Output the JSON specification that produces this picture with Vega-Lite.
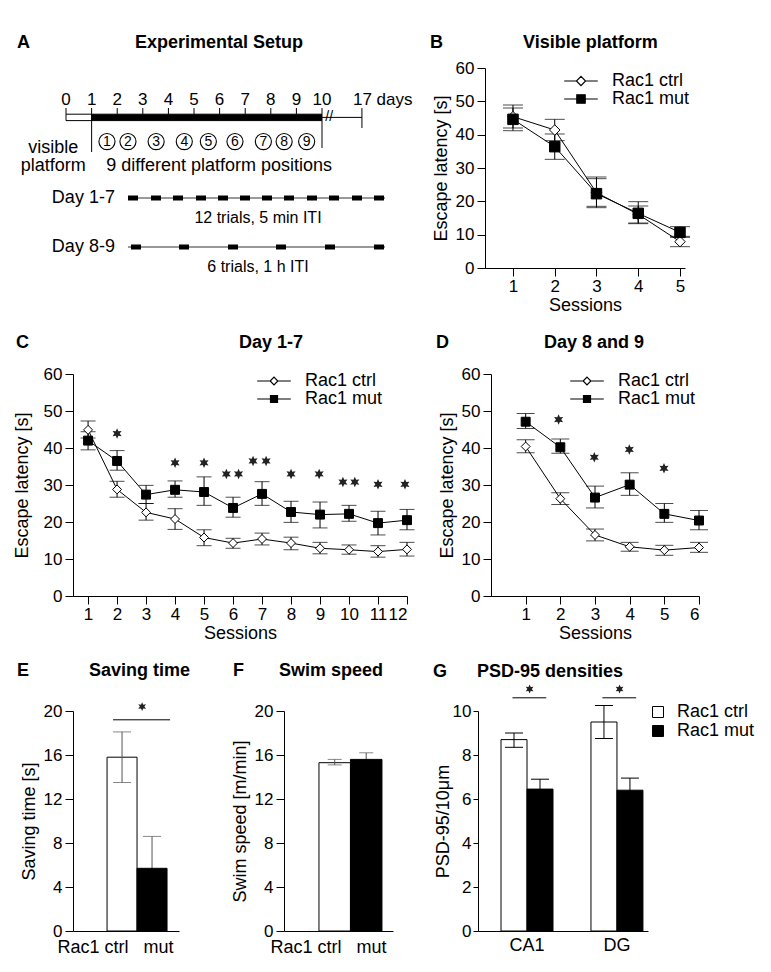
{
"$schema": "https://vega.github.io/schema/vega-lite/v6.json",
"background": "white",
"padding": {"left": 13, "top": 34, "right": 5, "bottom": 5},
"config": {
  "font": "Liberation Sans",
  "view": {"stroke": null},
  "axis": {"domainColor": "black", "domainWidth": 1, "tickColor": "black", "tickWidth": 1, "tickSize": 8, "labelColor": "black", "labelFontSize": 17, "labelPadding": 3, "titleColor": "black", "titleFontSize": 18, "titleFontWeight": "normal", "titlePadding": 5, "grid": false},
  "axisX": {"labelPadding": 2, "titlePadding": 2},
  "title": {"fontSize": 18, "fontWeight": "bold", "anchor": "start", "frame": "group", "color": "black"},
  "legend": {"labelFontSize": 18, "labelColor": "black", "padding": 0, "rowPadding": 0, "titlePadding": 0}
},
"resolve": {"scale": {"fill": "independent", "shape": "independent", "stroke": "independent"}},
"spacing": 20,
"datasets": {
  "visible": [
    {"session": 1, "group": "Rac1 ctrl", "mean": 45.4, "lo": 42.0, "hi": 48.9},
    {"session": 2, "group": "Rac1 ctrl", "mean": 41.4, "lo": 38.2, "hi": 44.6},
    {"session": 3, "group": "Rac1 ctrl", "mean": 22.6, "lo": 18.5, "hi": 26.8},
    {"session": 4, "group": "Rac1 ctrl", "mean": 16.1, "lo": 13.5, "hi": 18.6},
    {"session": 5, "group": "Rac1 ctrl", "mean": 7.9, "lo": 6.4, "hi": 9.5},
    {"session": 1, "group": "Rac1 mut", "mean": 44.6, "lo": 41.2, "hi": 48.0},
    {"session": 2, "group": "Rac1 mut", "mean": 36.4, "lo": 32.6, "hi": 40.2},
    {"session": 3, "group": "Rac1 mut", "mean": 22.3, "lo": 18.1, "hi": 27.3},
    {"session": 4, "group": "Rac1 mut", "mean": 16.4, "lo": 13.3, "hi": 19.9},
    {"session": 5, "group": "Rac1 mut", "mean": 10.7, "lo": 9.2, "hi": 12.4}
  ],
  "days17": [
    {"session": 1, "group": "Rac1 ctrl", "mean": 44.9, "lo": 42.7, "hi": 47.3},
    {"session": 2, "group": "Rac1 ctrl", "mean": 28.8, "lo": 26.7, "hi": 31.0},
    {"session": 3, "group": "Rac1 ctrl", "mean": 22.6, "lo": 20.5, "hi": 25.0},
    {"session": 4, "group": "Rac1 ctrl", "mean": 20.8, "lo": 18.0, "hi": 23.6},
    {"session": 5, "group": "Rac1 ctrl", "mean": 15.8, "lo": 13.6, "hi": 17.9},
    {"session": 6, "group": "Rac1 ctrl", "mean": 14.3, "lo": 12.9, "hi": 15.6},
    {"session": 7, "group": "Rac1 ctrl", "mean": 15.4, "lo": 13.8, "hi": 17.0},
    {"session": 8, "group": "Rac1 ctrl", "mean": 14.3, "lo": 12.5, "hi": 15.9},
    {"session": 9, "group": "Rac1 ctrl", "mean": 12.9, "lo": 11.4, "hi": 14.5},
    {"session": 10, "group": "Rac1 ctrl", "mean": 12.5, "lo": 11.3, "hi": 13.8},
    {"session": 11, "group": "Rac1 ctrl", "mean": 12.0, "lo": 10.5, "hi": 13.6},
    {"session": 12, "group": "Rac1 ctrl", "mean": 12.6, "lo": 10.8, "hi": 14.5},
    {"session": 1, "group": "Rac1 mut", "mean": 42.0, "lo": 39.5, "hi": 44.4},
    {"session": 2, "group": "Rac1 mut", "mean": 36.5, "lo": 34.0, "hi": 39.3},
    {"session": 3, "group": "Rac1 mut", "mean": 27.4, "lo": 25.0, "hi": 29.9},
    {"session": 4, "group": "Rac1 mut", "mean": 28.7, "lo": 26.7, "hi": 31.1},
    {"session": 5, "group": "Rac1 mut", "mean": 28.1, "lo": 24.5, "hi": 32.2},
    {"session": 6, "group": "Rac1 mut", "mean": 23.8, "lo": 21.3, "hi": 26.7},
    {"session": 7, "group": "Rac1 mut", "mean": 27.6, "lo": 24.5, "hi": 30.9},
    {"session": 8, "group": "Rac1 mut", "mean": 22.7, "lo": 19.9, "hi": 25.6},
    {"session": 9, "group": "Rac1 mut", "mean": 22.0, "lo": 18.4, "hi": 25.4},
    {"session": 10, "group": "Rac1 mut", "mean": 22.2, "lo": 20.2, "hi": 24.5},
    {"session": 11, "group": "Rac1 mut", "mean": 19.7, "lo": 16.5, "hi": 22.9},
    {"session": 12, "group": "Rac1 mut", "mean": 20.5, "lo": 17.9, "hi": 23.4}
  ],
  "days89": [
    {"session": 1, "group": "Rac1 ctrl", "mean": 40.4, "lo": 38.7, "hi": 42.2},
    {"session": 2, "group": "Rac1 ctrl", "mean": 26.3, "lo": 24.7, "hi": 27.9},
    {"session": 3, "group": "Rac1 ctrl", "mean": 16.5, "lo": 14.9, "hi": 18.1},
    {"session": 4, "group": "Rac1 ctrl", "mean": 13.3, "lo": 12.1, "hi": 14.5},
    {"session": 5, "group": "Rac1 ctrl", "mean": 12.4, "lo": 11.0, "hi": 13.7},
    {"session": 6, "group": "Rac1 ctrl", "mean": 13.1, "lo": 11.8, "hi": 14.5},
    {"session": 1, "group": "Rac1 mut", "mean": 47.1, "lo": 45.3, "hi": 49.3},
    {"session": 2, "group": "Rac1 mut", "mean": 40.2, "lo": 38.6, "hi": 42.4},
    {"session": 3, "group": "Rac1 mut", "mean": 26.6, "lo": 23.8, "hi": 29.7},
    {"session": 4, "group": "Rac1 mut", "mean": 30.1, "lo": 27.2, "hi": 33.3},
    {"session": 5, "group": "Rac1 mut", "mean": 22.2, "lo": 19.9, "hi": 25.0},
    {"session": 6, "group": "Rac1 mut", "mean": 20.4, "lo": 17.9, "hi": 23.1}
  ],
  "stars17": [
    {"session": 2, "height": 43.9}, {"session": 4, "height": 36.0}, {"session": 5, "height": 36.0},
    {"session": 5.77, "height": 33.0}, {"session": 6.19, "height": 33.0},
    {"session": 6.69, "height": 36.5}, {"session": 7.14, "height": 36.5},
    {"session": 8, "height": 33.0}, {"session": 8.97, "height": 33.0},
    {"session": 9.79, "height": 30.8}, {"session": 10.2, "height": 30.8},
    {"session": 11, "height": 30.2}, {"session": 11.93, "height": 30.2}
  ],
  "stars89": [
    {"session": 1.95, "height": 47.7}, {"session": 2.98, "height": 37.5},
    {"session": 3.99, "height": 39.6}, {"session": 4.99, "height": 34.5}
  ],
  "saving": [
    {"group": "ctrl", "mean": 15.8, "lo": 13.5, "hi": 18.1},
    {"group": "mut", "mean": 5.7, "lo": 2.8, "hi": 8.6}
  ],
  "saving_sig": [{"from": "ctrl", "to": "mut", "bracket": 19.2, "star": 20.4}],
  "speed": [
    {"group": "ctrl", "mean": 15.3, "lo": 15.1, "hi": 15.6},
    {"group": "mut", "mean": 15.6, "lo": 15.0, "hi": 16.2}
  ],
  "psd": [
    {"region": "CA1", "group": "Rac1 ctrl", "mean": 8.7, "lo": 8.35, "hi": 9.0},
    {"region": "CA1", "group": "Rac1 mut", "mean": 6.45, "lo": 6.0, "hi": 6.9},
    {"region": "DG", "group": "Rac1 ctrl", "mean": 9.5, "lo": 8.75, "hi": 10.25},
    {"region": "DG", "group": "Rac1 mut", "mean": 6.4, "lo": 5.85, "hi": 6.95}
  ],
  "psd_sig": [
    {"region": "CA1", "bracket": 10.6, "star": 11.0},
    {"region": "DG", "bracket": 10.6, "star": 11.0}
  ],
  "a_phases": [
    {"phase": "visible", "from": 0, "to": 1},
    {"phase": "hidden", "from": 1, "to": 10}
  ],
  "a_retention": [{"from": 10, "to": 11.56}],
  "a_break": [{"day": 10.28, "symbol": "//"}],
  "a_guides": [
    {"day": 1, "top": 2.31, "bottom": 4.2},
    {"day": 10, "top": 2.63, "bottom": 4.0},
    {"day": 11.56, "top": 2.0, "bottom": 3.0}
  ],
  "a_days": [
    {"day": 0}, {"day": 1}, {"day": 2}, {"day": 3}, {"day": 4}, {"day": 5},
    {"day": 6}, {"day": 7}, {"day": 8}, {"day": 9}, {"day": 10}
  ],
  "a_end": [{"day": 11.56, "label": "17 days"}],
  "a_positions": [
    {"position": 1, "day": 1.6}, {"position": 2, "day": 2.42}, {"position": 3, "day": 3.52},
    {"position": 4, "day": 4.62}, {"position": 5, "day": 5.56}, {"position": 6, "day": 6.6},
    {"position": 7, "day": 7.71}, {"position": 8, "day": 8.52}, {"position": 9, "day": 9.4}
  ],
  "a_notes": [
    {"text": "visible\nplatform", "day": -0.5, "lane": 4.0},
    {"text": "9 different platform positions", "day": 5.98, "lane": 4.9}
  ],
  "a_schedules": [
    {"schedule": "Day 1-7", "day": 1.91, "lane": 6.5, "from": 2.42, "to": 12.46, "caption": "12 trials, 5 min ITI", "captionDay": 7.5, "captionLane": 7.5},
    {"schedule": "Day 8-9", "day": 1.91, "lane": 8.95, "from": 2.42, "to": 12.46, "caption": "6 trials, 1 h ITI", "captionDay": 7.5, "captionLane": 9.95}
  ],
  "a_trials": [
    {"schedule": "Day 1-7", "trial": 1, "day": 2.617, "lane": 6.5},
    {"schedule": "Day 1-7", "trial": 2, "day": 3.516, "lane": 6.5},
    {"schedule": "Day 1-7", "trial": 3, "day": 4.375, "lane": 6.5},
    {"schedule": "Day 1-7", "trial": 4, "day": 5.273, "lane": 6.5},
    {"schedule": "Day 1-7", "trial": 5, "day": 6.133, "lane": 6.5},
    {"schedule": "Day 1-7", "trial": 6, "day": 6.992, "lane": 6.5},
    {"schedule": "Day 1-7", "trial": 7, "day": 7.852, "lane": 6.5},
    {"schedule": "Day 1-7", "trial": 8, "day": 8.711, "lane": 6.5},
    {"schedule": "Day 1-7", "trial": 9, "day": 9.609, "lane": 6.5},
    {"schedule": "Day 1-7", "trial": 10, "day": 10.469, "lane": 6.5},
    {"schedule": "Day 1-7", "trial": 11, "day": 11.367, "lane": 6.5},
    {"schedule": "Day 1-7", "trial": 12, "day": 12.227, "lane": 6.5},
    {"schedule": "Day 8-9", "trial": 1, "day": 2.734, "lane": 8.95},
    {"schedule": "Day 8-9", "trial": 2, "day": 4.609, "lane": 8.95},
    {"schedule": "Day 8-9", "trial": 3, "day": 6.523, "lane": 8.95},
    {"schedule": "Day 8-9", "trial": 4, "day": 8.398, "lane": 8.95},
    {"schedule": "Day 8-9", "trial": 5, "day": 10.313, "lane": 8.95},
    {"schedule": "Day 8-9", "trial": 6, "day": 12.227, "lane": 8.95}
  ]
},
"vconcat": [
  {
    "spacing": 13,
    "resolve": {"scale": {"fill": "independent", "shape": "independent", "stroke": "independent"}},
    "hconcat": [
      {
        "title": {"text": "A\u00a0\u00a0\u00a0\u00a0\u00a0\u00a0\u00a0\u00a0\u00a0\u00a0\u00a0\u00a0\u00a0\u00a0\u00a0\u00a0\u00a0\u00a0\u00a0\u00a0\u00a0Experimental Setup", "offset": 16, "dx": -56},
        "width": 344, "height": 200,
        "layer": [
          {"data": {"name": "a_days"}, "mark": {"type": "rule", "color": "black", "strokeWidth": 1},
           "encoding": {"x": {"field": "day", "type": "quantitative", "scale": {"domain": [0.273, 13.711], "nice": false, "zero": false}, "axis": null},
                        "y": {"datum": 2.0, "type": "quantitative", "scale": {"domain": [0, 10], "nice": false, "zero": false, "reverse": true}, "axis": null},
                        "y2": {"datum": 2.31}}},
          {"data": {"name": "a_phases"}, "mark": {"type": "rect", "stroke": "black", "strokeWidth": 1},
           "encoding": {"x": {"field": "from", "type": "quantitative", "scale": {"domain": [0.273, 13.711], "nice": false, "zero": false}, "axis": null},
                        "x2": {"field": "to"},
                        "y": {"datum": 2.31, "type": "quantitative", "scale": {"domain": [0, 10], "nice": false, "zero": false, "reverse": true}, "axis": null},
                        "y2": {"datum": 2.63},
                        "fill": {"field": "phase", "type": "nominal", "scale": {"domain": ["visible", "hidden"], "range": ["white", "black"]}, "legend": null}}},
          {"data": {"name": "a_retention"}, "mark": {"type": "rule", "color": "black", "strokeWidth": 1},
           "encoding": {"x": {"field": "from", "type": "quantitative", "scale": {"domain": [0.273, 13.711], "nice": false, "zero": false}, "axis": null},
                        "x2": {"field": "to"},
                        "y": {"datum": 2.47, "type": "quantitative", "scale": {"domain": [0, 10], "nice": false, "zero": false, "reverse": true}, "axis": null}}},
          {"data": {"name": "a_break"}, "mark": {"type": "text", "fontSize": 14, "color": "black"},
           "encoding": {"x": {"field": "day", "type": "quantitative", "scale": {"domain": [0.273, 13.711], "nice": false, "zero": false}, "axis": null},
                        "y": {"datum": 2.47, "type": "quantitative", "scale": {"domain": [0, 10], "nice": false, "zero": false, "reverse": true}, "axis": null},
                        "text": {"field": "symbol"}}},
          {"data": {"name": "a_guides"}, "mark": {"type": "rule", "color": "black", "strokeWidth": 1},
           "encoding": {"x": {"field": "day", "type": "quantitative", "scale": {"domain": [0.273, 13.711], "nice": false, "zero": false}, "axis": null},
                        "y": {"field": "top", "type": "quantitative", "scale": {"domain": [0, 10], "nice": false, "zero": false, "reverse": true}, "axis": null},
                        "y2": {"field": "bottom"}}},
          {"data": {"name": "a_days"}, "mark": {"type": "text", "fontSize": 17, "color": "black"},
           "encoding": {"x": {"field": "day", "type": "quantitative", "scale": {"domain": [0.273, 13.711], "nice": false, "zero": false}, "axis": null},
                        "y": {"datum": 1.6, "type": "quantitative", "scale": {"domain": [0, 10], "nice": false, "zero": false, "reverse": true}, "axis": null},
                        "text": {"field": "day", "type": "quantitative", "format": "d"}}},
          {"data": {"name": "a_end"}, "mark": {"type": "text", "fontSize": 17, "color": "black", "align": "left", "dx": -9},
           "encoding": {"x": {"field": "day", "type": "quantitative", "scale": {"domain": [0.273, 13.711], "nice": false, "zero": false}, "axis": null},
                        "y": {"datum": 1.6, "type": "quantitative", "scale": {"domain": [0, 10], "nice": false, "zero": false, "reverse": true}, "axis": null},
                        "text": {"field": "label"}}},
          {"data": {"name": "a_positions"}, "mark": {"type": "point", "shape": "circle", "size": 260, "filled": false, "color": "black", "strokeWidth": 1.1, "opacity": 1},
           "encoding": {"x": {"field": "day", "type": "quantitative", "scale": {"domain": [0.273, 13.711], "nice": false, "zero": false}, "axis": null},
                        "y": {"datum": 3.68, "type": "quantitative", "scale": {"domain": [0, 10], "nice": false, "zero": false, "reverse": true}, "axis": null}}},
          {"data": {"name": "a_positions"}, "mark": {"type": "text", "fontSize": 14, "color": "black"},
           "encoding": {"x": {"field": "day", "type": "quantitative", "scale": {"domain": [0.273, 13.711], "nice": false, "zero": false}, "axis": null},
                        "y": {"datum": 3.68, "type": "quantitative", "scale": {"domain": [0, 10], "nice": false, "zero": false, "reverse": true}, "axis": null},
                        "text": {"field": "position", "type": "quantitative", "format": "d"}}},
          {"data": {"name": "a_notes"}, "mark": {"type": "text", "fontSize": 18, "color": "black", "lineBreak": "\n", "lineHeight": 18},
           "encoding": {"x": {"field": "day", "type": "quantitative", "scale": {"domain": [0.273, 13.711], "nice": false, "zero": false}, "axis": null},
                        "y": {"field": "lane", "type": "quantitative", "scale": {"domain": [0, 10], "nice": false, "zero": false, "reverse": true}, "axis": null},
                        "text": {"field": "text"}}},
          {"data": {"name": "a_schedules"}, "mark": {"type": "rule", "color": "#333", "strokeWidth": 1},
           "encoding": {"x": {"field": "from", "type": "quantitative", "scale": {"domain": [0.273, 13.711], "nice": false, "zero": false}, "axis": null},
                        "x2": {"field": "to"},
                        "y": {"field": "lane", "type": "quantitative", "scale": {"domain": [0, 10], "nice": false, "zero": false, "reverse": true}, "axis": null}}},
          {"data": {"name": "a_schedules"}, "mark": {"type": "text", "fontSize": 18, "color": "black", "align": "right"},
           "encoding": {"x": {"field": "day", "type": "quantitative", "scale": {"domain": [0.273, 13.711], "nice": false, "zero": false}, "axis": null},
                        "y": {"field": "lane", "type": "quantitative", "scale": {"domain": [0, 10], "nice": false, "zero": false, "reverse": true}, "axis": null},
                        "text": {"field": "schedule"}}},
          {"data": {"name": "a_schedules"}, "mark": {"type": "text", "fontSize": 16, "color": "black"},
           "encoding": {"x": {"field": "captionDay", "type": "quantitative", "scale": {"domain": [0.273, 13.711], "nice": false, "zero": false}, "axis": null},
                        "y": {"field": "captionLane", "type": "quantitative", "scale": {"domain": [0, 10], "nice": false, "zero": false, "reverse": true}, "axis": null},
                        "text": {"field": "caption"}}},
          {"data": {"name": "a_trials"}, "mark": {"type": "point", "shape": "M-1,-0.5H1V0.5H-1Z", "size": 100, "filled": true, "color": "black", "opacity": 1},
           "encoding": {"x": {"field": "day", "type": "quantitative", "scale": {"domain": [0.273, 13.711], "nice": false, "zero": false}, "axis": null},
                        "y": {"field": "lane", "type": "quantitative", "scale": {"domain": [0, 10], "nice": false, "zero": false, "reverse": true}, "axis": null}}}
        ]
      },
      {
        "title": {"text": "B\u00a0\u00a0\u00a0\u00a0\u00a0\u00a0\u00a0\u00a0\u00a0\u00a0\u00a0\u00a0\u00a0\u00a0\u00a0\u00a0Visible platform", "offset": 7, "dx": -55},
        "width": 200, "height": 200,
        "data": {"name": "visible"},
        "resolve": {"scale": {"fill": "independent", "shape": "independent", "stroke": "independent"}},
        "layer": [
          {"mark": {"type": "errorbar", "ticks": {"size": 20}, "color": "black"},
           "encoding": {"x": {"field": "session", "type": "quantitative", "scale": {"domain": [0.33, 5.12], "nice": false, "zero": false}, "axis": {"values": [1, 2, 3, 4, 5], "title": "Sessions", "format": "d"}},
                        "y": {"field": "lo", "type": "quantitative", "scale": {"domain": [0, 60], "nice": false}, "axis": {"values": [0, 10, 20, 30, 40, 50, 60], "title": "Escape latency [s]"}},
                        "y2": {"field": "hi"}}},
          {"mark": {"type": "line", "color": "black", "strokeWidth": 1},
           "encoding": {"x": {"field": "session", "type": "quantitative", "scale": {"domain": [0.33, 5.12], "nice": false, "zero": false}, "axis": {"values": [1, 2, 3, 4, 5], "title": "Sessions", "format": "d"}},
                        "y": {"field": "mean", "type": "quantitative", "scale": {"domain": [0, 60], "nice": false}, "axis": {"values": [0, 10, 20, 30, 40, 50, 60], "title": "Escape latency [s]"}},
                        "detail": {"field": "group"}}},
          {"mark": {"type": "point", "filled": true, "size": 110, "stroke": "black", "strokeWidth": 1, "opacity": 1},
           "encoding": {"x": {"field": "session", "type": "quantitative", "scale": {"domain": [0.33, 5.12], "nice": false, "zero": false}, "axis": {"values": [1, 2, 3, 4, 5], "title": "Sessions", "format": "d"}},
                        "y": {"field": "mean", "type": "quantitative", "scale": {"domain": [0, 60], "nice": false}, "axis": {"values": [0, 10, 20, 30, 40, 50, 60], "title": "Escape latency [s]"}},
                        "fill": {"field": "group", "type": "nominal", "scale": {"domain": ["Rac1 ctrl", "Rac1 mut"], "range": ["white", "black"]}, "legend": null},
                        "shape": {"field": "group", "type": "nominal", "scale": {"domain": ["Rac1 ctrl", "Rac1 mut"], "range": ["diamond", "square"]}, "legend": null}}},
          {"mark": {"type": "point", "filled": true, "size": 196, "opacity": 0, "strokeWidth": 1.2},
           "encoding": {"x": {"field": "session", "type": "quantitative", "scale": {"domain": [0.33, 5.12], "nice": false, "zero": false}, "axis": {"values": [1, 2, 3, 4, 5], "title": "Sessions", "format": "d"}},
                        "y": {"field": "mean", "type": "quantitative", "scale": {"domain": [0, 60], "nice": false}, "axis": {"values": [0, 10, 20, 30, 40, 50, 60], "title": "Escape latency [s]"}},
                        "fill": {"field": "group", "type": "nominal", "scale": {"domain": ["Rac1 ctrl", "Rac1 mut"], "range": ["white", "black"]},
                                 "legend": {"orient": "none", "legendX": 87, "legendY": 4, "title": null, "symbolSize": 196, "labelOffset": 22, "symbolStrokeWidth": 1.2, "symbolOpacity": 1}},
                        "stroke": {"field": "group", "type": "nominal", "scale": {"domain": ["Rac1 ctrl", "Rac1 mut"], "range": ["black", "black"]},
                                   "legend": {"orient": "none", "legendX": 87, "legendY": 4, "title": null, "symbolSize": 196, "labelOffset": 22, "symbolStrokeWidth": 1.2, "symbolOpacity": 1}},
                        "shape": {"field": "group", "type": "nominal", "scale": {"domain": ["Rac1 ctrl", "Rac1 mut"], "range": ["M-2.4,0H-0.65M0.65,0H2.4M0,-0.65L0.65,0L0,0.65L-0.65,0Z", "M-2.4,0H-0.6M0.6,0H2.4M-0.6,-0.6H0.6V0.6H-0.6Z"]},
                                  "legend": {"orient": "none", "legendX": 87, "legendY": 4, "title": null, "symbolSize": 196, "labelOffset": 22, "symbolStrokeWidth": 1.2, "symbolOpacity": 1}}}}
        ]
      }
    ]
  },
  {
    "spacing": 12,
    "resolve": {"scale": {"fill": "independent", "shape": "independent", "stroke": "independent"}},
    "hconcat": [
      {
        "title": {"text": "C\u00a0\u00a0\u00a0\u00a0\u00a0\u00a0\u00a0\u00a0\u00a0\u00a0\u00a0\u00a0\u00a0\u00a0\u00a0\u00a0\u00a0\u00a0\u00a0\u00a0\u00a0\u00a0\u00a0\u00a0\u00a0\u00a0\u00a0\u00a0\u00a0\u00a0\u00a0\u00a0\u00a0\u00a0\u00a0\u00a0\u00a0\u00a0\u00a0\u00a0\u00a0\u00a0Day 1-7", "offset": 13, "dx": -57},
        "width": 334, "height": 222,
        "resolve": {"scale": {"fill": "independent", "shape": "independent", "stroke": "independent"}},
        "layer": [
          {"data": {"name": "days17"}, "mark": {"type": "errorbar", "ticks": {"size": 15}, "color": "black"},
           "encoding": {"x": {"field": "session", "type": "quantitative", "scale": {"domain": [0.48, 12], "nice": false, "zero": false}, "axis": {"values": [1, 2, 3, 4, 5, 6, 7, 8, 9, 10, 11, 12], "title": "Sessions", "format": "d"}},
                        "y": {"field": "lo", "type": "quantitative", "scale": {"domain": [0, 60], "nice": false}, "axis": {"values": [0, 10, 20, 30, 40, 50, 60], "title": "Escape latency [s]", "titlePadding": 12}},
                        "y2": {"field": "hi"}}},
          {"data": {"name": "days17"}, "mark": {"type": "line", "color": "black", "strokeWidth": 1},
           "encoding": {"x": {"field": "session", "type": "quantitative", "scale": {"domain": [0.48, 12], "nice": false, "zero": false}, "axis": {"values": [1, 2, 3, 4, 5, 6, 7, 8, 9, 10, 11, 12], "title": "Sessions", "format": "d"}},
                        "y": {"field": "mean", "type": "quantitative", "scale": {"domain": [0, 60], "nice": false}, "axis": {"values": [0, 10, 20, 30, 40, 50, 60], "title": "Escape latency [s]", "titlePadding": 12}},
                        "detail": {"field": "group"}}},
          {"data": {"name": "days17"}, "mark": {"type": "point", "filled": true, "size": 80, "stroke": "black", "strokeWidth": 1, "opacity": 1},
           "encoding": {"x": {"field": "session", "type": "quantitative", "scale": {"domain": [0.48, 12], "nice": false, "zero": false}, "axis": {"values": [1, 2, 3, 4, 5, 6, 7, 8, 9, 10, 11, 12], "title": "Sessions", "format": "d"}},
                        "y": {"field": "mean", "type": "quantitative", "scale": {"domain": [0, 60], "nice": false}, "axis": {"values": [0, 10, 20, 30, 40, 50, 60], "title": "Escape latency [s]", "titlePadding": 12}},
                        "fill": {"field": "group", "type": "nominal", "scale": {"domain": ["Rac1 ctrl", "Rac1 mut"], "range": ["white", "black"]}, "legend": null},
                        "shape": {"field": "group", "type": "nominal", "scale": {"domain": ["Rac1 ctrl", "Rac1 mut"], "range": ["diamond", "square"]}, "legend": null}}},
          {"data": {"name": "days17"}, "mark": {"type": "point", "filled": true, "size": 196, "opacity": 0, "strokeWidth": 1.2},
           "encoding": {"x": {"field": "session", "type": "quantitative", "scale": {"domain": [0.48, 12], "nice": false, "zero": false}, "axis": {"values": [1, 2, 3, 4, 5, 6, 7, 8, 9, 10, 11, 12], "title": "Sessions", "format": "d"}},
                        "y": {"field": "mean", "type": "quantitative", "scale": {"domain": [0, 60], "nice": false}, "axis": {"values": [0, 10, 20, 30, 40, 50, 60], "title": "Escape latency [s]", "titlePadding": 12}},
                        "fill": {"field": "group", "type": "nominal", "scale": {"domain": ["Rac1 ctrl", "Rac1 mut"], "range": ["white", "black"]},
                                 "legend": {"orient": "none", "legendX": 192, "legendY": -2, "title": null, "symbolSize": 196, "labelOffset": 22, "symbolStrokeWidth": 1.2, "symbolOpacity": 1}},
                        "stroke": {"field": "group", "type": "nominal", "scale": {"domain": ["Rac1 ctrl", "Rac1 mut"], "range": ["black", "black"]},
                                   "legend": {"orient": "none", "legendX": 192, "legendY": -2, "title": null, "symbolSize": 196, "labelOffset": 22, "symbolStrokeWidth": 1.2, "symbolOpacity": 1}},
                        "shape": {"field": "group", "type": "nominal", "scale": {"domain": ["Rac1 ctrl", "Rac1 mut"], "range": ["M-2.4,0H-0.55M0.55,0H2.4M0,-0.55L0.55,0L0,0.55L-0.55,0Z", "M-2.4,0H-0.5M0.5,0H2.4M-0.5,-0.5H0.5V0.5H-0.5Z"]},
                                  "legend": {"orient": "none", "legendX": 192, "legendY": -2, "title": null, "symbolSize": 196, "labelOffset": 22, "symbolStrokeWidth": 1.2, "symbolOpacity": 1}}}},
          {"data": {"name": "stars17"}, "mark": {"type": "point", "shape": "M0,-1L0.25,-0.433L0.866,-0.5L0.5,0L0.866,0.5L0.25,0.433L0,1L-0.25,0.433L-0.866,0.5L-0.5,0L-0.866,-0.5L-0.25,-0.433Z", "size": 110, "filled": true, "color": "#222", "opacity": 1},
           "encoding": {"x": {"field": "session", "type": "quantitative", "scale": {"domain": [0.48, 12], "nice": false, "zero": false}, "axis": {"values": [1, 2, 3, 4, 5, 6, 7, 8, 9, 10, 11, 12], "title": "Sessions", "format": "d"}},
                        "y": {"field": "height", "type": "quantitative", "scale": {"domain": [0, 60], "nice": false}, "axis": {"values": [0, 10, 20, 30, 40, 50, 60], "title": "Escape latency [s]", "titlePadding": 12}}}}
        ]
      },
      {
        "title": {"text": "D\u00a0\u00a0\u00a0\u00a0\u00a0\u00a0\u00a0\u00a0\u00a0\u00a0\u00a0\u00a0\u00a0\u00a0\u00a0\u00a0\u00a0\u00a0\u00a0Day 8 and 9", "offset": 13, "dx": -55},
        "width": 208, "height": 222,
        "resolve": {"scale": {"fill": "independent", "shape": "independent", "stroke": "independent"}},
        "layer": [
          {"data": {"name": "days89"}, "mark": {"type": "errorbar", "ticks": {"size": 18}, "color": "black"},
           "encoding": {"x": {"field": "session", "type": "quantitative", "scale": {"domain": [0, 6], "nice": false, "zero": false}, "axis": {"values": [1, 2, 3, 4, 5, 6], "title": "Sessions", "format": "d"}},
                        "y": {"field": "lo", "type": "quantitative", "scale": {"domain": [0, 60], "nice": false}, "axis": {"values": [0, 10, 20, 30, 40, 50, 60], "title": "Escape latency [s]"}},
                        "y2": {"field": "hi"}}},
          {"data": {"name": "days89"}, "mark": {"type": "line", "color": "black", "strokeWidth": 1},
           "encoding": {"x": {"field": "session", "type": "quantitative", "scale": {"domain": [0, 6], "nice": false, "zero": false}, "axis": {"values": [1, 2, 3, 4, 5, 6], "title": "Sessions", "format": "d"}},
                        "y": {"field": "mean", "type": "quantitative", "scale": {"domain": [0, 60], "nice": false}, "axis": {"values": [0, 10, 20, 30, 40, 50, 60], "title": "Escape latency [s]"}},
                        "detail": {"field": "group"}}},
          {"data": {"name": "days89"}, "mark": {"type": "point", "filled": true, "size": 80, "stroke": "black", "strokeWidth": 1, "opacity": 1},
           "encoding": {"x": {"field": "session", "type": "quantitative", "scale": {"domain": [0, 6], "nice": false, "zero": false}, "axis": {"values": [1, 2, 3, 4, 5, 6], "title": "Sessions", "format": "d"}},
                        "y": {"field": "mean", "type": "quantitative", "scale": {"domain": [0, 60], "nice": false}, "axis": {"values": [0, 10, 20, 30, 40, 50, 60], "title": "Escape latency [s]"}},
                        "fill": {"field": "group", "type": "nominal", "scale": {"domain": ["Rac1 ctrl", "Rac1 mut"], "range": ["white", "black"]}, "legend": null},
                        "shape": {"field": "group", "type": "nominal", "scale": {"domain": ["Rac1 ctrl", "Rac1 mut"], "range": ["diamond", "square"]}, "legend": null}}},
          {"data": {"name": "days89"}, "mark": {"type": "point", "filled": true, "size": 196, "opacity": 0, "strokeWidth": 1.2},
           "encoding": {"x": {"field": "session", "type": "quantitative", "scale": {"domain": [0, 6], "nice": false, "zero": false}, "axis": {"values": [1, 2, 3, 4, 5, 6], "title": "Sessions", "format": "d"}},
                        "y": {"field": "mean", "type": "quantitative", "scale": {"domain": [0, 60], "nice": false}, "axis": {"values": [0, 10, 20, 30, 40, 50, 60], "title": "Escape latency [s]"}},
                        "fill": {"field": "group", "type": "nominal", "scale": {"domain": ["Rac1 ctrl", "Rac1 mut"], "range": ["white", "black"]},
                                 "legend": {"orient": "none", "legendX": 87, "legendY": -2, "title": null, "symbolSize": 196, "labelOffset": 22, "symbolStrokeWidth": 1.2, "symbolOpacity": 1}},
                        "stroke": {"field": "group", "type": "nominal", "scale": {"domain": ["Rac1 ctrl", "Rac1 mut"], "range": ["black", "black"]},
                                   "legend": {"orient": "none", "legendX": 87, "legendY": -2, "title": null, "symbolSize": 196, "labelOffset": 22, "symbolStrokeWidth": 1.2, "symbolOpacity": 1}},
                        "shape": {"field": "group", "type": "nominal", "scale": {"domain": ["Rac1 ctrl", "Rac1 mut"], "range": ["M-2.4,0H-0.55M0.55,0H2.4M0,-0.55L0.55,0L0,0.55L-0.55,0Z", "M-2.4,0H-0.5M0.5,0H2.4M-0.5,-0.5H0.5V0.5H-0.5Z"]},
                                  "legend": {"orient": "none", "legendX": 87, "legendY": -2, "title": null, "symbolSize": 196, "labelOffset": 22, "symbolStrokeWidth": 1.2, "symbolOpacity": 1}}}},
          {"data": {"name": "stars89"}, "mark": {"type": "point", "shape": "M0,-1L0.25,-0.433L0.866,-0.5L0.5,0L0.866,0.5L0.25,0.433L0,1L-0.25,0.433L-0.866,0.5L-0.5,0L-0.866,-0.5L-0.25,-0.433Z", "size": 110, "filled": true, "color": "#222", "opacity": 1},
           "encoding": {"x": {"field": "session", "type": "quantitative", "scale": {"domain": [0, 6], "nice": false, "zero": false}, "axis": {"values": [1, 2, 3, 4, 5, 6], "title": "Sessions", "format": "d"}},
                        "y": {"field": "height", "type": "quantitative", "scale": {"domain": [0, 60], "nice": false}, "axis": {"values": [0, 10, 20, 30, 40, 50, 60], "title": "Escape latency [s]"}}}}
        ]
      }
    ]
  },
  {
    "spacing": 40,
    "resolve": {"scale": {"fill": "independent", "shape": "independent", "stroke": "independent"}},
    "hconcat": [
      {
        "title": {"text": "E\u00a0\u00a0\u00a0\u00a0\u00a0\u00a0\u00a0\u00a0\u00a0\u00a0\u00a0\u00a0Saving time", "offset": 22, "dx": -56},
        "width": 106, "height": 220,
        "layer": [
          {"data": {"name": "saving"}, "transform": [{"filter": "datum.group === 'mut'"}],
           "mark": {"type": "errorbar", "ticks": {"size": 18}, "color": "#555"},
           "encoding": {"x": {"field": "group", "type": "nominal", "scale": {"type": "band", "domain": ["ctrl", "mut"], "paddingInner": 0, "paddingOuter": 0.767, "align": 0.74}, "axis": {"labels": false, "ticks": false, "title": "Rac1 ctrl\u00a0\u00a0 mut", "titleX": -16, "titleAlign": "left", "titlePadding": 7}},
                        "y": {"field": "lo", "type": "quantitative", "scale": {"domain": [0, 20], "nice": false}, "axis": {"values": [0, 4, 8, 12, 16, 20], "title": "Saving time [s]"}},
                        "y2": {"field": "hi"}}},
          {"data": {"name": "saving"}, "mark": {"type": "bar", "stroke": "black", "strokeWidth": 1},
           "encoding": {"x": {"field": "group", "type": "nominal", "scale": {"type": "band", "domain": ["ctrl", "mut"], "paddingInner": 0, "paddingOuter": 0.767, "align": 0.74}, "axis": {"labels": false, "ticks": false, "title": "Rac1 ctrl\u00a0\u00a0 mut", "titleX": -16, "titleAlign": "left", "titlePadding": 7}},
                        "y": {"field": "mean", "type": "quantitative", "scale": {"domain": [0, 20], "nice": false}, "axis": {"values": [0, 4, 8, 12, 16, 20], "title": "Saving time [s]"}},
                        "fill": {"field": "group", "type": "nominal", "scale": {"domain": ["ctrl", "mut"], "range": ["white", "black"]}, "legend": null}}},
          {"data": {"name": "saving"}, "transform": [{"filter": "datum.group === 'ctrl'"}],
           "mark": {"type": "errorbar", "ticks": {"size": 18}, "color": "#555"},
           "encoding": {"x": {"field": "group", "type": "nominal", "scale": {"type": "band", "domain": ["ctrl", "mut"], "paddingInner": 0, "paddingOuter": 0.767, "align": 0.74}, "axis": {"labels": false, "ticks": false, "title": "Rac1 ctrl\u00a0\u00a0 mut", "titleX": -16, "titleAlign": "left", "titlePadding": 7}},
                        "y": {"field": "lo", "type": "quantitative", "scale": {"domain": [0, 20], "nice": false}, "axis": {"values": [0, 4, 8, 12, 16, 20], "title": "Saving time [s]"}},
                        "y2": {"field": "hi"}}},
          {"data": {"name": "saving_sig"}, "mark": {"type": "rule", "color": "black", "strokeWidth": 1},
           "encoding": {"x": {"field": "from", "type": "nominal", "bandPosition": 0.2, "scale": {"type": "band", "domain": ["ctrl", "mut"], "paddingInner": 0, "paddingOuter": 0.767, "align": 0.74}, "axis": {"labels": false, "ticks": false, "title": "Rac1 ctrl\u00a0\u00a0 mut", "titleX": -16, "titleAlign": "left", "titlePadding": 7}},
                        "x2": {"field": "to", "bandPosition": 1.1},
                        "y": {"field": "bracket", "type": "quantitative", "scale": {"domain": [0, 20], "nice": false}, "axis": {"values": [0, 4, 8, 12, 16, 20], "title": "Saving time [s]"}}}},
          {"data": {"name": "saving_sig"}, "mark": {"type": "point", "shape": "M0,-1L0.25,-0.433L0.866,-0.5L0.5,0L0.866,0.5L0.25,0.433L0,1L-0.25,0.433L-0.866,0.5L-0.5,0L-0.866,-0.5L-0.25,-0.433Z", "size": 80, "filled": true, "color": "#222", "opacity": 1},
           "encoding": {"x": {"field": "to", "type": "nominal", "bandPosition": 0.17, "scale": {"type": "band", "domain": ["ctrl", "mut"], "paddingInner": 0, "paddingOuter": 0.767, "align": 0.74}, "axis": {"labels": false, "ticks": false, "title": "Rac1 ctrl\u00a0\u00a0 mut", "titleX": -16, "titleAlign": "left", "titlePadding": 7}},
                        "y": {"field": "star", "type": "quantitative", "scale": {"domain": [0, 20], "nice": false}, "axis": {"values": [0, 4, 8, 12, 16, 20], "title": "Saving time [s]"}}}}
        ]
      },
      {
        "spacing": 40,
        "resolve": {"scale": {"fill": "independent", "shape": "independent", "stroke": "independent"}},
        "hconcat": [
          {
            "title": {"text": "F\u00a0\u00a0\u00a0\u00a0\u00a0\u00a0\u00a0Swim speed", "offset": 22, "dx": -51},
            "width": 109, "height": 220,
            "data": {"name": "speed"},
            "layer": [
              {"transform": [{"filter": "datum.group === 'mut'"}],
               "mark": {"type": "errorbar", "ticks": {"size": 14}, "color": "#555"},
               "encoding": {"x": {"field": "group", "type": "nominal", "scale": {"type": "band", "domain": ["ctrl", "mut"], "paddingInner": 0, "paddingOuter": 0.73, "align": 0.76}, "axis": {"labels": false, "ticks": false, "title": "Rac1 ctrl\u00a0\u00a0 mut", "titleX": -14, "titleAlign": "left", "titlePadding": 7}},
                            "y": {"field": "lo", "type": "quantitative", "scale": {"domain": [0, 20], "nice": false}, "axis": {"values": [0, 4, 8, 12, 16, 20], "title": "Swim speed [m/min]"}},
                            "y2": {"field": "hi"}}},
              {"mark": {"type": "bar", "stroke": "black", "strokeWidth": 1},
               "encoding": {"x": {"field": "group", "type": "nominal", "scale": {"type": "band", "domain": ["ctrl", "mut"], "paddingInner": 0, "paddingOuter": 0.73, "align": 0.76}, "axis": {"labels": false, "ticks": false, "title": "Rac1 ctrl\u00a0\u00a0 mut", "titleX": -14, "titleAlign": "left", "titlePadding": 7}},
                            "y": {"field": "mean", "type": "quantitative", "scale": {"domain": [0, 20], "nice": false}, "axis": {"values": [0, 4, 8, 12, 16, 20], "title": "Swim speed [m/min]"}},
                            "fill": {"field": "group", "type": "nominal", "scale": {"domain": ["ctrl", "mut"], "range": ["white", "black"]}, "legend": null}}},
              {"transform": [{"filter": "datum.group === 'ctrl'"}],
               "mark": {"type": "errorbar", "ticks": {"size": 14}, "color": "#555"},
               "encoding": {"x": {"field": "group", "type": "nominal", "scale": {"type": "band", "domain": ["ctrl", "mut"], "paddingInner": 0, "paddingOuter": 0.73, "align": 0.76}, "axis": {"labels": false, "ticks": false, "title": "Rac1 ctrl\u00a0\u00a0 mut", "titleX": -14, "titleAlign": "left", "titlePadding": 7}},
                            "y": {"field": "lo", "type": "quantitative", "scale": {"domain": [0, 20], "nice": false}, "axis": {"values": [0, 4, 8, 12, 16, 20], "title": "Swim speed [m/min]"}},
                            "y2": {"field": "hi"}}}
            ]
          },
          {
            "title": {"text": "G\u00a0\u00a0\u00a0\u00a0\u00a0\u00a0PSD-95 densities", "offset": 4, "dx": -45},
            "width": 170, "height": 220,
            "layer": [
              {"data": {"name": "psd"}, "mark": {"type": "bar", "stroke": "black", "strokeWidth": 1},
               "encoding": {"x": {"field": "region", "type": "nominal", "scale": {"type": "band", "domain": ["CA1", "DG"], "paddingInner": 0.422, "paddingOuter": 0.156, "align": 0.82}, "axis": {"title": null, "ticks": false, "labelAngle": 0, "labelFontSize": 18, "labelPadding": 5}},
                            "xOffset": {"field": "group", "type": "nominal", "scale": {"domain": ["Rac1 ctrl", "Rac1 mut"], "paddingInner": 0, "paddingOuter": 0}},
                            "y": {"field": "mean", "type": "quantitative", "scale": {"domain": [0, 10], "nice": false}, "axis": {"values": [0, 2, 4, 6, 8, 10], "title": "PSD-95/10μm", "tickSize": 5, "labelPadding": 2, "titlePadding": 0}},
                            "fill": {"field": "group", "type": "nominal", "scale": {"domain": ["Rac1 ctrl", "Rac1 mut"], "range": ["white", "black"]},
                                     "legend": {"orient": "none", "legendX": 171, "legendY": -8, "title": null, "symbolType": "square", "symbolSize": 121, "symbolStrokeColor": "black", "symbolStrokeWidth": 1, "labelOffset": 10, "rowPadding": 1}}}},
              {"data": {"name": "psd"}, "mark": {"type": "rule", "color": "black", "strokeWidth": 1},
               "encoding": {"x": {"field": "region", "type": "nominal", "scale": {"type": "band", "domain": ["CA1", "DG"], "paddingInner": 0.422, "paddingOuter": 0.156, "align": 0.82}, "axis": {"title": null, "ticks": false, "labelAngle": 0, "labelFontSize": 18, "labelPadding": 5}},
                            "xOffset": {"field": "group", "type": "nominal", "scale": {"domain": ["Rac1 ctrl", "Rac1 mut"], "paddingInner": 0, "paddingOuter": 0}},
                            "y": {"field": "lo", "type": "quantitative", "scale": {"domain": [0, 10], "nice": false}, "axis": {"values": [0, 2, 4, 6, 8, 10], "title": "PSD-95/10μm", "tickSize": 5, "labelPadding": 2, "titlePadding": 0}},
                            "y2": {"field": "hi"}}},
              {"data": {"name": "psd"}, "mark": {"type": "tick", "color": "black", "size": 18, "thickness": 1, "orient": "horizontal", "opacity": 1},
               "encoding": {"x": {"field": "region", "type": "nominal", "scale": {"type": "band", "domain": ["CA1", "DG"], "paddingInner": 0.422, "paddingOuter": 0.156, "align": 0.82}, "axis": {"title": null, "ticks": false, "labelAngle": 0, "labelFontSize": 18, "labelPadding": 5}},
                            "xOffset": {"field": "group", "type": "nominal", "scale": {"domain": ["Rac1 ctrl", "Rac1 mut"], "paddingInner": 0, "paddingOuter": 0}},
                            "y": {"field": "hi", "type": "quantitative", "scale": {"domain": [0, 10], "nice": false}, "axis": {"values": [0, 2, 4, 6, 8, 10], "title": "PSD-95/10μm", "tickSize": 5, "labelPadding": 2, "titlePadding": 0}}}},
              {"data": {"name": "psd"}, "mark": {"type": "tick", "color": "black", "size": 18, "thickness": 1, "orient": "horizontal", "opacity": 1},
               "encoding": {"x": {"field": "region", "type": "nominal", "scale": {"type": "band", "domain": ["CA1", "DG"], "paddingInner": 0.422, "paddingOuter": 0.156, "align": 0.82}, "axis": {"title": null, "ticks": false, "labelAngle": 0, "labelFontSize": 18, "labelPadding": 5}},
                            "xOffset": {"field": "group", "type": "nominal", "scale": {"domain": ["Rac1 ctrl", "Rac1 mut"], "paddingInner": 0, "paddingOuter": 0}},
                            "y": {"field": "lo", "type": "quantitative", "scale": {"domain": [0, 10], "nice": false}, "axis": {"values": [0, 2, 4, 6, 8, 10], "title": "PSD-95/10μm", "tickSize": 5, "labelPadding": 2, "titlePadding": 0}}}},
              {"data": {"name": "psd_sig"}, "mark": {"type": "rule", "color": "black", "strokeWidth": 1},
               "encoding": {"x": {"field": "region", "type": "nominal", "bandPosition": 0.22, "scale": {"type": "band", "domain": ["CA1", "DG"], "paddingInner": 0.422, "paddingOuter": 0.156, "align": 0.82}, "axis": {"title": null, "ticks": false, "labelAngle": 0, "labelFontSize": 18, "labelPadding": 5}},
                            "x2": {"field": "region", "bandPosition": 0.87},
                            "y": {"field": "bracket", "type": "quantitative", "scale": {"domain": [0, 10], "nice": false}, "axis": {"values": [0, 2, 4, 6, 8, 10], "title": "PSD-95/10μm", "tickSize": 5, "labelPadding": 2, "titlePadding": 0}}}},
              {"data": {"name": "psd_sig"}, "mark": {"type": "point", "shape": "M0,-1L0.25,-0.433L0.866,-0.5L0.5,0L0.866,0.5L0.25,0.433L0,1L-0.25,0.433L-0.866,0.5L-0.5,0L-0.866,-0.5L-0.25,-0.433Z", "size": 80, "filled": true, "color": "#222", "opacity": 1},
               "encoding": {"x": {"field": "region", "type": "nominal", "bandPosition": 0.55, "scale": {"type": "band", "domain": ["CA1", "DG"], "paddingInner": 0.422, "paddingOuter": 0.156, "align": 0.82}, "axis": {"title": null, "ticks": false, "labelAngle": 0, "labelFontSize": 18, "labelPadding": 5}},
                            "y": {"field": "star", "type": "quantitative", "scale": {"domain": [0, 10], "nice": false}, "axis": {"values": [0, 2, 4, 6, 8, 10], "title": "PSD-95/10μm", "tickSize": 5, "labelPadding": 2, "titlePadding": 0}}}}
            ]
          }
        ]
      }
    ]
  }
]
}
